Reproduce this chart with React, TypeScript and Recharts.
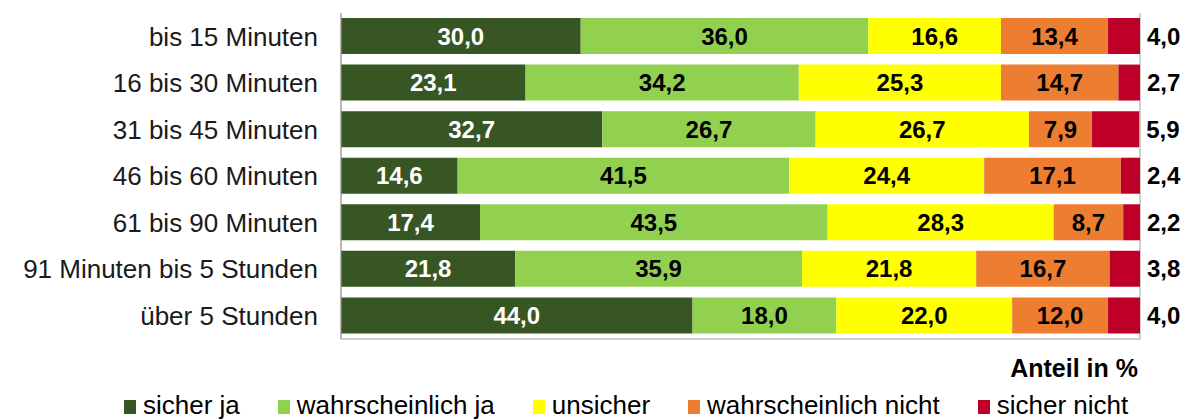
import React from 'react';
import { BarChart, Bar, XAxis, YAxis, CartesianGrid, Legend, LabelList } from 'recharts';

const categories = [
  'bis 15 Minuten',
  '16 bis 30 Minuten',
  '31 bis 45 Minuten',
  '46 bis 60 Minuten',
  '61 bis 90 Minuten',
  '91 Minuten bis 5 Stunden',
  'über 5 Stunden',
];

const sicherJa = [30.0, 23.1, 32.7, 14.6, 17.4, 21.8, 44.0];
const wahrscheinlichJa = [36.0, 34.2, 26.7, 41.5, 43.5, 35.9, 18.0];
const unsicher = [16.6, 25.3, 26.7, 24.4, 28.3, 21.8, 22.0];
const wahrscheinlichNicht = [13.4, 14.7, 7.9, 17.1, 8.7, 16.7, 12.0];
const sicherNicht = [4.0, 2.7, 5.9, 2.4, 2.2, 3.8, 4.0];

const xTicks = [0, 10, 20, 30, 40, 50, 60, 70, 80, 90, 100];

const series = [
  { key: 'sicherJa', name: 'sicher ja', color: '#375623', label: '#ffffff' },
  { key: 'wahrscheinlichJa', name: 'wahrscheinlich ja', color: '#92d050', label: '#000000' },
  { key: 'unsicher', name: 'unsicher', color: '#ffff00', label: '#000000' },
  { key: 'wahrscheinlichNicht', name: 'wahrscheinlich nicht', color: '#ed7d31', label: '#000000' },
  { key: 'sicherNicht', name: 'sicher nicht', color: '#be0028', label: '#000000' },
];

const data = categories.map((name, i) => ({
  name,
  sicherJa: sicherJa[i],
  wahrscheinlichJa: wahrscheinlichJa[i],
  unsicher: unsicher[i],
  wahrscheinlichNicht: wahrscheinlichNicht[i],
  sicherNicht: sicherNicht[i],
}));

const fmt = (v: any) => Number(v).toFixed(1).replace('.', ',');

const renderLegend = () => (
  <div style={{ height: 30, paddingLeft: 124, whiteSpace: 'nowrap', lineHeight: '30px', fontSize: 26, color: '#000' }}>
    {series.map((s) => (
      <span key={s.key} style={{ marginRight: 38 }}>
        <span
          style={{
            display: 'inline-block',
            width: 12,
            height: 14,
            marginRight: 7,
            backgroundColor: s.color,
            verticalAlign: 'baseline',
          }}
        ></span>
        {s.name}
      </span>
    ))}
  </div>
);

export default function App() {
  return (
    <div style={{ position: 'absolute', left: 0, top: 0, fontFamily: '"Liberation Sans", Arial, sans-serif' }}>
      <BarChart
        width={1182}
        height={420}
        data={data}
        layout="vertical"
        margin={{ top: 13, right: 42, left: 0, bottom: 11 }}
        barSize={36}
      >
        <CartesianGrid horizontal={false} vertical={true} stroke="#9f9f9f" />
        <XAxis
          type="number"
          domain={[0, 100]}
          ticks={xTicks}
          allowDataOverflow
          tick={false}
          tickLine={false}
          axisLine={{ stroke: '#9f9f9f' }}
          height={40}
          label={{
            value: 'Anteil in %',
            position: 'insideBottomRight',
            offset: 2,
            fontSize: 25,
            fontWeight: 'bold',
            fill: '#000',
          }}
        />
        <XAxis
          xAxisId="top"
          orientation="top"
          type="number"
          domain={[0, 100]}
          allowDataOverflow
          tick={false}
          tickLine={false}
          axisLine={{ stroke: '#9f9f9f' }}
          height={0}
        />
        <YAxis
          type="category"
          dataKey="name"
          width={341}
          interval={0}
          tickLine={false}
          tickMargin={17}
          axisLine={{ stroke: '#9f9f9f' }}
          tick={{ fontSize: 26, fill: '#1a1a1a' }}
        />
        <Legend verticalAlign="bottom" content={renderLegend} wrapperStyle={{ bottom: 0, left: 0 }} />
        {series.map((s, idx) => (
          <Bar key={s.key} dataKey={s.key} name={s.name} stackId="a" fill={s.color} isAnimationActive={false}>
            <LabelList
              dataKey={s.key}
              position={idx === series.length - 1 ? 'right' : 'center'}
              offset={7}
              formatter={fmt}
              fill={s.label}
              fontSize={24}
              fontWeight="bold"
            />
          </Bar>
        ))}
      </BarChart>
    </div>
  );
}
